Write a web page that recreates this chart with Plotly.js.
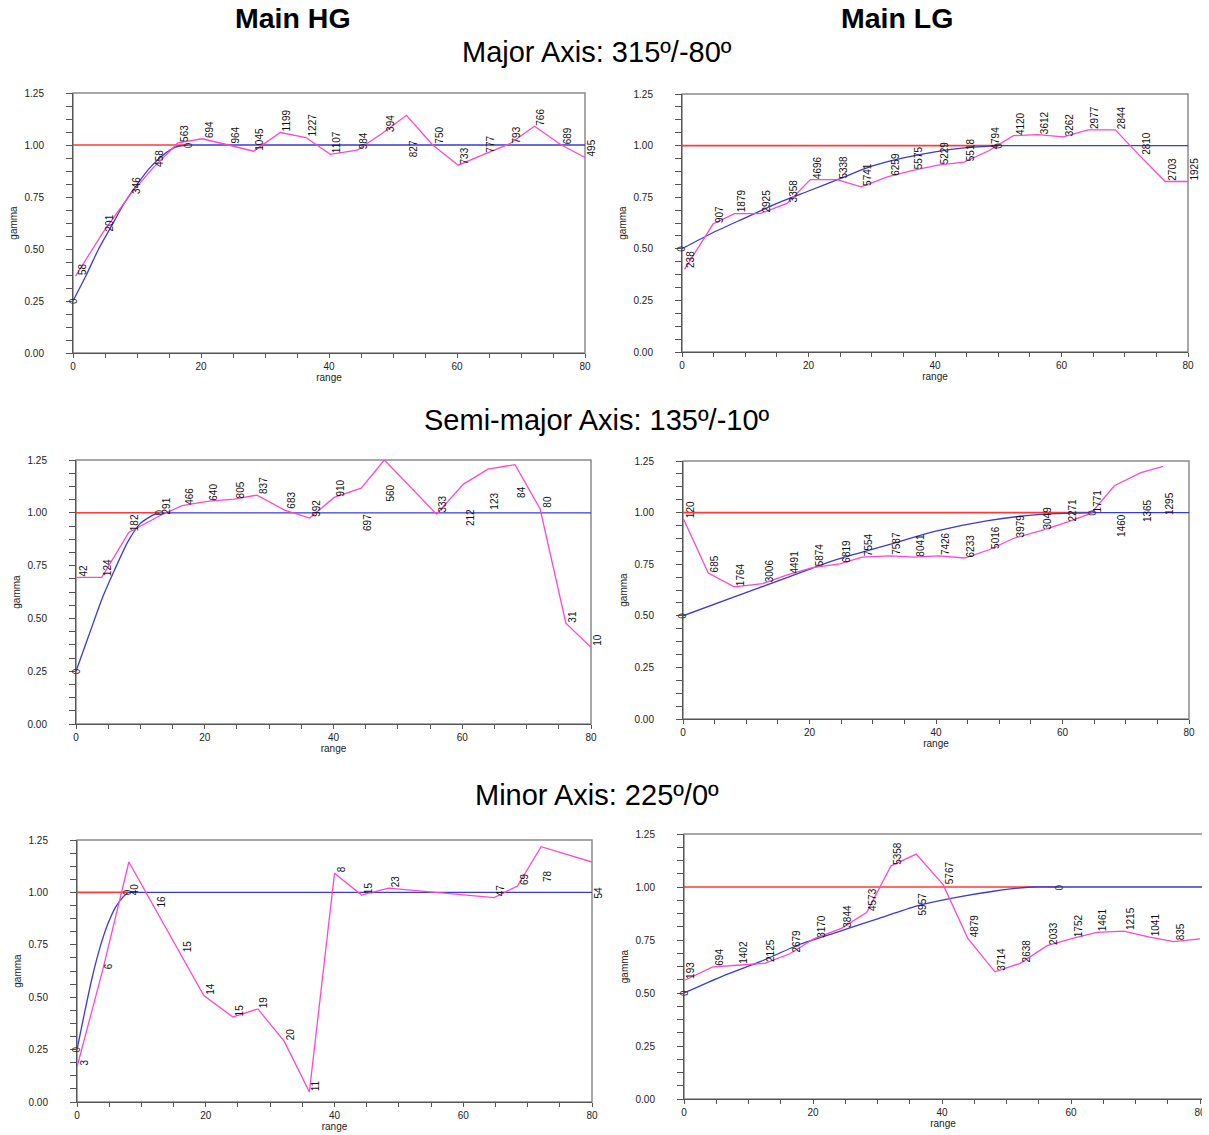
<!DOCTYPE html>
<html>
<head>
<meta charset="utf-8">
<script src="https://cdn.plot.ly/plotly-3.0.1.min.js"></script>
<style>
  html, body { margin: 0; padding: 0; background: #ffffff; }
  #chart { width: 1202px; height: 1135px; overflow: hidden; }
</style>
</head>
<body>
<div id="chart"></div>
<script>
// ---------- Experimental variograms (lag, gamma, number of pairs) ----------
const majorHG_lag   = [0.4, 4.7, 8.9, 12.5, 16.4, 20.2, 24.3, 28.2, 32.4, 36.4, 40.2, 44.4, 48.5, 52.1, 56.2, 60.2, 64.3, 68.2, 72.1, 76.3, 80.0];
const majorHG_gamma = [0.37, 0.58, 0.76, 0.89, 1.01, 1.03, 1.0, 0.97, 1.06, 1.036, 0.955, 0.975, 1.06, 1.143, 1.0, 0.903, 0.956, 1.005, 1.09, 1.0, 0.94];
const majorHG_pairs = [58, 201, 346, 458, 563, 694, 964, 1045, 1199, 1227, 1107, 984, 394, 827, 750, 733, 777, 793, 766, 689, 495];
const majorHG_lowLabels = {13: 1.03};

const majorLG_lag   = [0.4, 4.9, 8.3, 12.3, 16.6, 20.3, 24.5, 28.3, 32.6, 36.5, 40.5, 44.6, 48.5, 52.4, 56.2, 60.3, 64.2, 68.5, 72.4, 76.4, 80.0];
const majorLG_gamma = [0.40, 0.62, 0.67, 0.67, 0.72, 0.835, 0.835, 0.80, 0.85, 0.88, 0.905, 0.92, 0.975, 1.048, 1.053, 1.042, 1.076, 1.076, 0.95, 0.826, 0.826];
const majorLG_pairs = [238, 907, 1879, 2925, 3358, 4696, 5338, 5741, 6259, 5575, 5229, 5518, 4794, 4120, 3612, 3262, 2977, 2844, 2810, 2703, 1925];
const majorLG_lowLabels = {};

const semiHG_lag   = [0.1, 4.0, 8.2, 13.0, 16.5, 20.4, 24.6, 28.1, 32.4, 36.3, 40.1, 44.3, 47.9, 56.0, 60.2, 64.0, 68.2, 72.1, 76.1, 80.0];
const semiHG_gamma = [0.694, 0.694, 0.907, 0.986, 1.034, 1.054, 1.065, 1.084, 1.013, 0.975, 1.073, 1.117, 1.25, 0.994, 1.136, 1.207, 1.228, 1.018, 0.477, 0.363];
const semiHG_pairs = [42, 124, 182, 291, 466, 640, 805, 837, 683, 992, 910, 697, 560, 333, 212, 123, 84, 80, 31, 10];
const semiHG_lowLabels = {11: 1.00, 12: 1.14, 14: 1.02, 15: 1.10, 16: 1.13};

const semiLG_lag   = [0.06, 4.0, 8.1, 12.6, 16.6, 20.5, 24.8, 28.3, 32.7, 36.6, 40.5, 44.5, 48.4, 52.4, 56.6, 60.6, 64.5, 68.2, 72.4, 75.9];
const semiLG_gamma = [0.97, 0.707, 0.64, 0.656, 0.70, 0.733, 0.752, 0.784, 0.79, 0.784, 0.79, 0.78, 0.82, 0.877, 0.913, 0.953, 0.996, 1.13, 1.194, 1.224];
const semiLG_pairs = [120, 685, 1764, 3006, 4491, 5874, 6819, 7554, 7587, 8041, 7426, 6233, 5016, 3979, 3049, 2271, 1771, 1460, 1365, 1295];
const semiLG_lowLabels = {17: 1.0, 18: 1.07, 19: 1.105};

const minorHG_lag   = [0.0, 4.0, 8.06, 12.1, 16.1, 19.7, 24.2, 28.1, 32.2, 36.1, 40.0, 44.2, 48.4, 64.8, 68.4, 72.1, 80.0];
const minorHG_gamma = [0.167, 0.63, 1.145, 0.925, 0.71, 0.508, 0.405, 0.444, 0.289, 0.048, 1.091, 0.987, 1.02, 0.975, 1.03, 1.218, 1.145];
const minorHG_pairs = [3, 6, 40, 16, 15, 14, 15, 19, 20, 11, 8, 15, 23, 47, 69, 78, 54];
const minorHG_lowLabels = {2: 1.05, 15: 1.11, 16: 1.03};

const minorLG_lag   = [0.1, 4.46, 8.3, 12.5, 16.4, 20.2, 24.4, 28.3, 32.1, 36.0, 40.2, 44.0, 48.2, 52.1, 56.3, 60.1, 64.0, 68.2, 72.0, 75.9, 80.0];
const minorLG_gamma = [0.56, 0.623, 0.631, 0.64, 0.685, 0.757, 0.805, 0.88, 1.10, 1.155, 1.01, 0.757, 0.60, 0.64, 0.723, 0.757, 0.786, 0.792, 0.765, 0.742, 0.755];
const minorLG_pairs = [193, 694, 1402, 2125, 2679, 3170, 3844, 4573, 5358, 5957, 5767, 4879, 3714, 2638, 2033, 1752, 1461, 1215, 1041, 835, null];
const minorLG_lowLabels = {9: 0.98};

// ---------- Fitted models (nugget, range, sampled rising part of the model) ----------
const sill = 1.0;
const majorHG_nugget = 0.25, majorHG_range = 18.0;
const majorHG_modelX = [0, 2, 4, 6, 8, 10, 12, 14, 16, 18];
const majorHG_modelY = [0.25, 0.37, 0.50, 0.61, 0.72, 0.81, 0.89, 0.95, 0.99, 1.0];

const majorLG_nugget = 0.5, majorLG_range = 50.0;
const majorLG_modelX = [0, 5, 10, 15, 20, 25, 30, 35, 40, 45, 50];
const majorLG_modelY = [0.5, 0.58, 0.65, 0.72, 0.78, 0.84, 0.90, 0.94, 0.97, 0.99, 1.0];

const semiHG_nugget = 0.25, semiHG_range = 13.0;
const semiHG_modelX = [0, 2, 4, 6, 8, 10, 12, 13];
const semiHG_modelY = [0.25, 0.42, 0.59, 0.73, 0.86, 0.95, 0.99, 1.0];

const semiLG_nugget = 0.5, semiLG_range = 64.7;
const semiLG_modelX = [0, 8, 16, 24, 32, 40, 48, 56, 64.7];
const semiLG_modelY = [0.5, 0.59, 0.68, 0.77, 0.84, 0.91, 0.96, 0.99, 1.0];

const minorHG_nugget = 0.25, minorHG_range = 7.9;
const minorHG_modelX = [0, 1.2, 2.4, 3.6, 4.8, 6, 7.2, 7.9];
const minorHG_modelY = [0.25, 0.43, 0.60, 0.74, 0.85, 0.93, 0.98, 1.0];

const minorLG_nugget = 0.5, minorLG_range = 58.2;
const minorLG_modelX = [0, 6, 12, 18, 24, 30, 36, 42, 48, 54, 58.2];
const minorLG_modelY = [0.5, 0.58, 0.65, 0.73, 0.79, 0.85, 0.91, 0.95, 0.98, 1.0, 1.0];

// ---------- Titles ----------
const columnTitles = ['Main HG', 'Main LG'];
const rowTitles = ['Major Axis: 315º/-80º', 'Semi-major Axis: 135º/-10º', 'Minor Axis: 225º/0º'];
const xTitle = 'range', yTitle = 'gamma';

// ---------- Page geometry (pixels) ----------
const W = 1202, H = 1135;
const FONT = 'Arial, "Liberation Sans", sans-serif';
const PINK = '#ff48c8', BLUE = '#3a3ad6', RED = '#ff3a3a';

const panels = [
  {lag: majorHG_lag, gamma: majorHG_gamma, pairs: majorHG_pairs, low: majorHG_lowLabels,
   mx: majorHG_modelX, my: majorHG_modelY, nugget: majorHG_nugget, range: majorHG_range,
   box: [73, 93, 585, 353], xmax: 80},
  {lag: majorLG_lag, gamma: majorLG_gamma, pairs: majorLG_pairs, low: majorLG_lowLabels,
   mx: majorLG_modelX, my: majorLG_modelY, nugget: majorLG_nugget, range: majorLG_range,
   box: [682, 94, 1188, 352], xmax: 80},
  {lag: semiHG_lag, gamma: semiHG_gamma, pairs: semiHG_pairs, low: semiHG_lowLabels,
   mx: semiHG_modelX, my: semiHG_modelY, nugget: semiHG_nugget, range: semiHG_range,
   box: [76, 460, 591, 724], xmax: 80},
  {lag: semiLG_lag, gamma: semiLG_gamma, pairs: semiLG_pairs, low: semiLG_lowLabels,
   mx: semiLG_modelX, my: semiLG_modelY, nugget: semiLG_nugget, range: semiLG_range,
   box: [683, 461, 1189, 719], xmax: 80},
  {lag: minorHG_lag, gamma: minorHG_gamma, pairs: minorHG_pairs, low: minorHG_lowLabels,
   mx: minorHG_modelX, my: minorHG_modelY, nugget: minorHG_nugget, range: minorHG_range,
   box: [77, 840, 592, 1102], xmax: 80},
  {lag: minorLG_lag, gamma: minorLG_gamma, pairs: minorLG_pairs, low: minorLG_lowLabels,
   mx: minorLG_modelX, my: minorLG_modelY, nugget: minorLG_nugget, range: minorLG_range,
   box: [684, 834, 1202, 1099], xmax: 80.3, openRight: true}
];

const traces = [];
const annotations = [];
const shapes = [];
const layout = {
  width: W, height: H,
  margin: {l: 0, r: 0, t: 0, b: 0},
  paper_bgcolor: '#ffffff', plot_bgcolor: '#ffffff',
  showlegend: false,
  font: {family: FONT, color: '#222'}
};

panels.forEach((p, k) => {
  const s = k === 0 ? '' : String(k + 1);
  const xa = 'x' + s, ya = 'y' + s;
  const [x0, y0, x1, y1] = p.box;

  layout['xaxis' + s] = {
    domain: [x0 / W, Math.min(1, x1 / W)],
    anchor: ya,
    range: [0, p.xmax],
    showgrid: false, zeroline: false,
    showline: true, linecolor: '#555', linewidth: 1,
    ticks: 'outside', ticklen: 4, tickcolor: '#555', tickwidth: 1,
    tick0: 0, dtick: 20,
    minor: {tick0: 0, dtick: 5, ticks: 'outside', ticklen: 4, tickcolor: '#555'},
    tickfont: {size: 10, color: '#222', family: FONT},
    ticklabeloverflow: 'allow',
    title: {text: xTitle, font: {size: 10, color: '#222', family: FONT}, standoff: 2},
    fixedrange: true
  };
  layout['yaxis' + s] = {
    domain: [1 - y1 / H, 1 - y0 / H],
    anchor: xa,
    range: [0, 1.25],
    showgrid: false, zeroline: false,
    showline: true, linecolor: '#555', linewidth: 1,
    ticks: 'outside', ticklen: 6, tickcolor: '#555', tickwidth: 1,
    tick0: 0, dtick: 0.25, tickformat: '.2f',
    minor: {tick0: 0, dtick: 0.0625, ticks: 'outside', ticklen: 6, tickcolor: '#555'},
    ticklabelstandoff: 20,
    tickfont: {size: 10, color: '#222', family: FONT},
    title: {text: yTitle, font: {size: 10, color: '#222', family: FONT}, standoff: 5},
    fixedrange: true
  };

  // plot frame (top and right sides)
  shapes.push({
    type: 'rect', xref: xa + ' domain', yref: ya + ' domain',
    x0: 0, x1: p.openRight ? 1.05 : 1, y0: 0, y1: 1,
    line: {color: '#8a8a8a', width: 1.5}, layer: 'below'
  });

  // sill line up to the model range
  traces.push({
    type: 'scatter', mode: 'lines', xaxis: xa, yaxis: ya,
    x: [0, p.range], y: [sill, sill],
    line: {color: RED, width: 1.6}, hoverinfo: 'skip'
  });
  // fitted model: rising part, then the sill beyond the range
  traces.push({
    type: 'scatter', mode: 'lines', xaxis: xa, yaxis: ya,
    x: p.mx, y: p.my,
    line: {color: BLUE, width: 1.3, shape: 'spline', smoothing: 0.6}, hoverinfo: 'skip'
  });
  traces.push({
    type: 'scatter', mode: 'lines', xaxis: xa, yaxis: ya,
    x: [p.range, p.xmax], y: [sill, sill],
    line: {color: BLUE, width: 1.3}, hoverinfo: 'skip'
  });
  // experimental variogram
  traces.push({
    type: 'scatter', mode: 'lines', xaxis: xa, yaxis: ya,
    x: p.lag, y: p.gamma,
    line: {color: PINK, width: 1.3}
  });

  // number of pairs at each lag
  p.pairs.forEach((n, i) => {
    if (n === null) return;
    const below = Object.prototype.hasOwnProperty.call(p.low, i);
    annotations.push({
      xref: xa, yref: ya, x: p.lag[i], y: below ? p.low[i] : p.gamma[i],
      text: String(n), textangle: -90, showarrow: false,
      xanchor: 'left', yanchor: below ? 'top' : 'bottom',
      borderpad: 0, font: {size: 10, color: '#111', family: FONT}
    });
  });

  // model control points (nugget and range)
  [[0, p.nugget], [p.range, sill]].forEach(([mx, my]) => {
    annotations.push({
      xref: xa, yref: ya, x: mx, y: my, text: '0', textangle: -90,
      showarrow: false, xanchor: 'center', yanchor: 'middle', borderpad: 0,
      font: {size: 10, color: '#333', family: FONT}
    });
  });
});

// column headers
[[293, columnTitles[0]], [897, columnTitles[1]]].forEach(([px, t]) => {
  annotations.push({
    xref: 'paper', yref: 'paper', x: px / W, y: 1 - 18 / H, text: '<b>' + t + '</b>',
    showarrow: false, xanchor: 'center', yanchor: 'middle',
    font: {size: 28.5, color: '#000', family: FONT}
  });
});
// row titles
[52, 420, 795].forEach((py, r) => {
  annotations.push({
    xref: 'paper', yref: 'paper', x: 597 / W, y: 1 - py / H, text: rowTitles[r],
    showarrow: false, xanchor: 'center', yanchor: 'middle',
    font: {size: 29, color: '#000', family: FONT}
  });
});

layout.annotations = annotations;
layout.shapes = shapes;

Plotly.newPlot('chart', traces, layout, {displayModeBar: false, staticPlot: true});
</script>
</body>
</html>
